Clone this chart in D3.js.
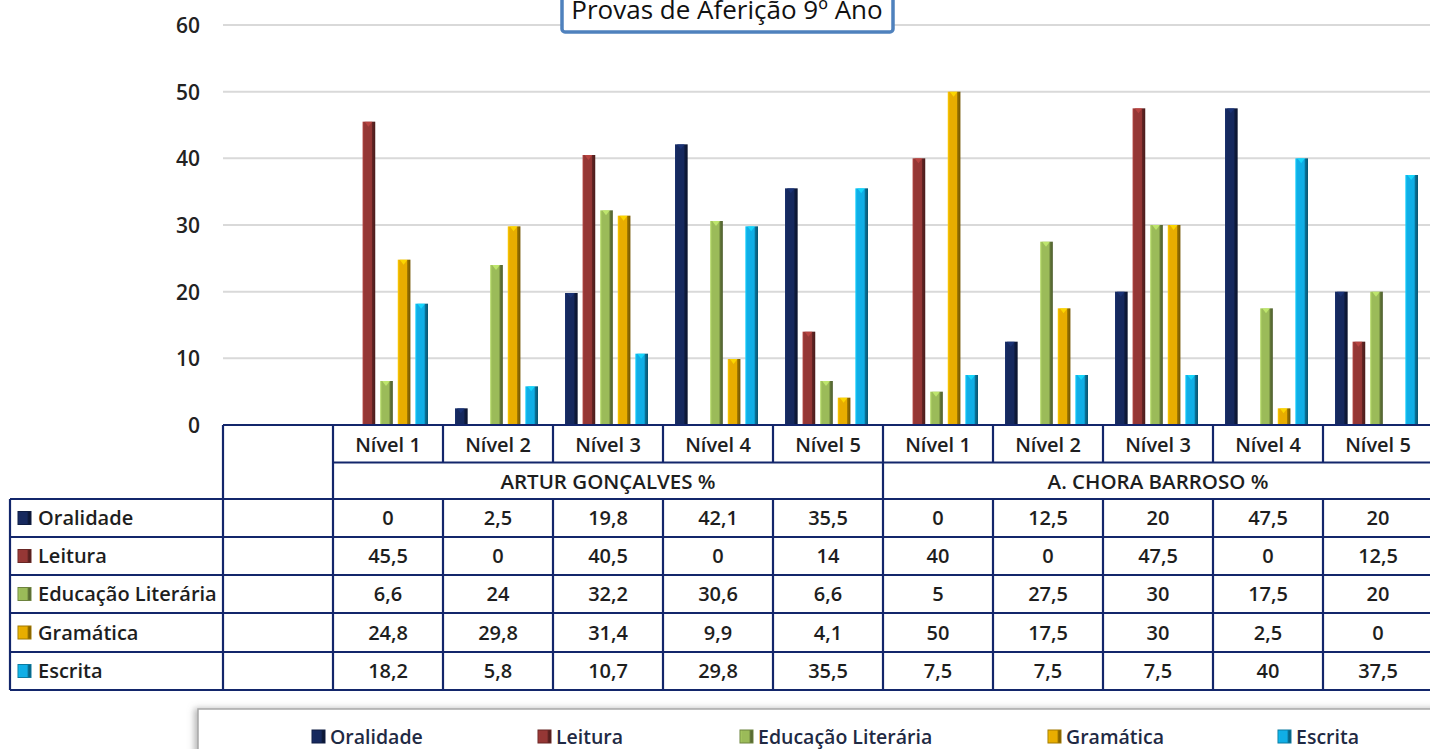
<!DOCTYPE html>
<html><head><meta charset="utf-8">
<script src="https://cdn.jsdelivr.net/npm/d3@7"></script>
<style>
body{margin:0;background:#fff;}
svg{display:block;font-family:"Open Sans",sans-serif;}
</style></head><body>
<svg id="c" width="1430" height="749"></svg>
<script>
const title = "Provas de Aferição 9º Ano";
const schools = ["ARTUR GONÇALVES %", "A. CHORA BARROSO %"];
const levels = ["Nível 1","Nível 2","Nível 3","Nível 4","Nível 5"];
const seriesNames = ["Oralidade","Leitura","Educação Literária","Gramática","Escrita"];
const seriesColors = ["#16295e","#953735","#9bbb59","#e8ad00","#10aee6"];
const oralidade = [0,2.5,19.8,42.1,35.5, 0,12.5,20,47.5,20];
const leitura = [45.5,0,40.5,0,14, 40,0,47.5,0,12.5];
const educacao = [6.6,24,32.2,30.6,6.6, 5,27.5,30,17.5,20];
const gramatica = [24.8,29.8,31.4,9.9,4.1, 50,17.5,30,2.5,0];
const escrita = [18.2,5.8,10.7,29.8,35.5, 7.5,7.5,7.5,40,37.5];
const yTicks = [0,10,20,30,40,50,60];

const values = [oralidade, leitura, educacao, gramatica, escrita];
const svg = d3.select("#c");
const defs = svg.append("defs");

const cats = [""].concat(d3.range(10).map(i => "c" + i));
const x = d3.scaleBand().domain(cats).range([223, 1433]);
const xs = d3.scaleBand().domain(seriesNames).range([12, 95]).paddingInner(0.28);
const y = d3.scaleLinear().domain([0, 60]).range([425, 25]);

// gradients
seriesColors.forEach((c, i) => {
  const g = defs.append("linearGradient").attr("id", "g" + i).attr("x1", 0).attr("x2", 1).attr("y1", 0).attr("y2", 0);
  const base = d3.color(c);
  g.append("stop").attr("offset", 0).attr("stop-color", base.brighter(0.5));
  g.append("stop").attr("offset", 0.15).attr("stop-color", base);
  g.append("stop").attr("offset", 0.7).attr("stop-color", base);
  g.append("stop").attr("offset", 0.78).attr("stop-color", base.darker(1.2));
  g.append("stop").attr("offset", 1).attr("stop-color", base.darker(2));
});
const sh = defs.append("filter").attr("id", "sh").attr("x", -0.1).attr("y", -0.5).attr("width", 1.2).attr("height", 2);
sh.append("feDropShadow").attr("dx", -3).attr("dy", 0).attr("stdDeviation", 3).attr("flood-color", "#888").attr("flood-opacity", 0.6);

// gridlines
svg.append("g").selectAll("line").data(yTicks).join("line")
  .attr("x1", 223).attr("x2", 1430).attr("y1", d => y(d)).attr("y2", d => y(d))
  .attr("stroke", "#d9d9d9").attr("stroke-width", 2);

// y axis labels
const yAxis = d3.axisLeft(y).tickValues(yTicks).tickSize(0).tickPadding(0);
const ya = svg.append("g").attr("transform", "translate(200,0)").call(yAxis);
ya.select(".domain").remove();
ya.selectAll("text").attr("font-size", 21).attr("font-weight", 600).attr("fill", "#222")
  .attr("font-family", "Open Sans").attr("dy", "0.35em");

// bars
const bars = svg.append("g");
values.forEach((arr, si) => {
  const g = bars.append("g");
  arr.forEach((v, ci) => {
    if (v <= 0) return;
    const bx = x(cats[ci + 1]) + xs(seriesNames[si]);
    const bw = xs.bandwidth();
    const top = y(v), bot = y(0);
    g.append("rect").attr("x", bx).attr("y", top).attr("width", bw).attr("height", bot - top)
      .attr("fill", `url(#g${si})`);
    const bc = d3.color(seriesColors[si]);
    g.append("path").attr("d", `M${bx + 2},${top} L${bx + bw - 3},${top} L${bx + bw / 2 - 0.5},${Math.min(top + 5, bot)} Z`)
      .attr("fill", bc.brighter(0.7)).attr("opacity", 0.8);
  });
});

// title box
svg.append("rect").attr("x", 562).attr("y", -12).attr("width", 331).attr("height", 44).attr("rx", 3)
  .attr("fill", "#fff").attr("stroke", "#4f81bd").attr("stroke-width", 3.5);
svg.append("text").attr("x", 727).attr("y", 19).attr("text-anchor", "middle")
  .attr("font-size", 26).attr("font-weight", 400).attr("fill", "#111").text(title);

// data table
const tbl = svg.append("g");
const lineC = "#13266b";
const rowY = [425, 462, 499, 537, 575, 613, 652, 690];
const txt = (xp, yp, t, anchor) => tbl.append("text").attr("x", xp).attr("y", yp).attr("dy", "0.36em")
  .attr("text-anchor", anchor || "middle").attr("font-size", 20).attr("font-weight", 600).attr("fill", "#1e1e1e").text(t);

// level labels
levels.concat(levels).forEach((l, i) => {
  const cx = x(cats[i + 1]) + x.bandwidth() / 2;
  txt(cx, (rowY[0] + rowY[1]) / 2 + 1, l);
});
schools.forEach((s, i) => {
  const cx = x(cats[1 + i * 5]) + x.bandwidth() * 2.5;
  txt(cx, (rowY[1] + rowY[2]) / 2 + 1, s).attr("font-size", 20.5);
});
// values
const fmt = v => String(v).replace(".", ",");
values.forEach((arr, si) => {
  const cy = (rowY[si + 2] + rowY[si + 3]) / 2;
  arr.forEach((v, ci) => {
    txt(x(cats[ci + 1]) + x.bandwidth() / 2, cy, fmt(v));
  });
  // legend key in table
  tbl.append("rect").attr("x", 18).attr("y", cy - 6.5).attr("width", 13).attr("height", 13)
    .attr("fill", `url(#g${si})`).attr("stroke", d3.color(seriesColors[si]).darker(1)).attr("stroke-width", 1);
  txt(38, cy, seriesNames[si], "start");
});

// table lines
const L = (x1, y1, x2, y2) => tbl.append("line").attr("x1", x1).attr("y1", y1).attr("x2", x2).attr("y2", y2)
  .attr("stroke", lineC).attr("stroke-width", 2.2);
L(223, rowY[0], 1433, rowY[0]);
L(334, rowY[1] + 0.5, 1433, rowY[1] + 0.5);
rowY.slice(2).forEach(r => L(10, r, 1433, r));
L(10, rowY[2], 10, rowY[7]);
L(223, rowY[0], 223, rowY[7]);
cats.slice(1).forEach((c, i) => {
  const xx = x(c);
  if (i === 0 || i === 5) L(xx, rowY[0], xx, rowY[7]);
  else { L(xx, rowY[0], xx, rowY[1]); L(xx, rowY[2], xx, rowY[7]); }
});

// legend
const lg = svg.append("g");
lg.append("rect").attr("x", 198).attr("y", 709).attr("width", 1260).attr("height", 60)
  .attr("fill", "#fff").attr("stroke", "#a8a8a8").attr("stroke-width", 1.5).attr("filter", "url(#sh)");
const legX = [312, 538, 740, 1048, 1278];
seriesNames.forEach((n, i) => {
  lg.append("rect").attr("x", legX[i]).attr("y", 730).attr("width", 13).attr("height", 13)
    .attr("fill", `url(#g${i})`).attr("stroke", d3.color(seriesColors[i]).darker(1)).attr("stroke-width", 1);
  lg.append("text").attr("x", legX[i] + 18).attr("y", 737).attr("dy", "0.36em")
    .attr("font-size", 19.5).attr("font-weight", 600).attr("fill", "#1f2a44").text(n);
});
</script>
</body></html>
